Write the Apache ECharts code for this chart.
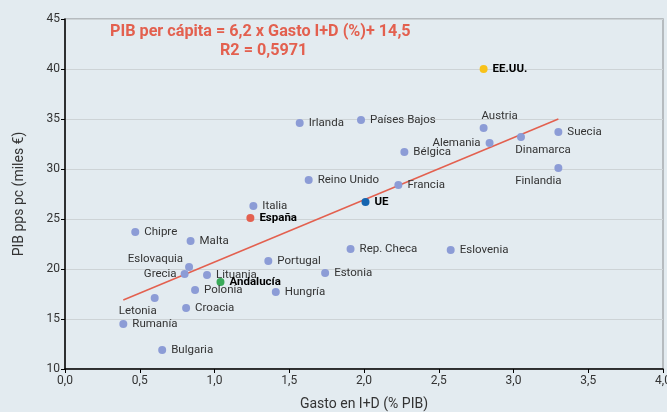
<html>
    <head>
        <meta charset="utf-8">
        <script src="https://cdn.jsdelivr.net/npm/echarts@6/dist/echarts.min.js"></script>
    </head>
    <body style="margin:0">
        <style>
            #main {
                position: absolute;
                left: 0;
                top: 0;
                width: 667px;
                height: 412px;
                background: #e3ebf0;
            }
        </style>
        <div id="main"></div>

        <script>
            // countries: gasto I+D (% PIB) vs PIB pps pc (miles de euros)
            var names = ['EE.UU.', 'Irlanda', 'Pa\u00edses Bajos', 'Austria', 'Suecia', 'Dinamarca',
                'Alemania', 'B\u00e9lgica', 'Finlandia', 'Reino Unido', 'Francia', 'UE', 'Italia',
                'Espa\u00f1a', 'Chipre', 'Malta', 'Rep. Checa', 'Eslovenia', 'Portugal', 'Eslovaquia',
                'Grecia', 'Lituania', 'Estonia', 'Andaluc\u00eda', 'Polonia', 'Hungr\u00eda', 'Letonia',
                'Croacia', 'Ruman\u00eda', 'Bulgaria'];
            var gasto = [2.80, 1.57, 1.98, 2.80, 3.30, 3.05, 2.84, 2.27, 3.30, 1.63, 2.23, 2.01, 1.26,
                1.24, 0.47, 0.84, 1.91, 2.58, 1.36, 0.83, 0.80, 0.95, 1.74, 1.04, 0.87, 1.41, 0.60,
                0.81, 0.39, 0.65];
            var pib = [40.0, 34.6, 34.9, 34.1, 33.7, 33.2, 32.6, 31.7, 30.1, 28.9, 28.4, 26.7, 26.3,
                25.1, 23.7, 22.8, 22.0, 21.9, 20.8, 20.2, 19.5, 19.4, 19.6, 18.7, 17.9, 17.7, 17.1,
                16.1, 14.5, 11.9];
            // trend line end points
            var trendX = [0.39, 3.30];
            var trendY = [16.9, 35.0];
            var xTicks = ['0,0', '0,5', '1,0', '1,5', '2,0', '2,5', '3,0', '3,5', '4,0'];

            var highlight = {
                'EE.UU.': '#f8c21a',
                'Espa\u00f1a': '#e3604f',
                'UE': '#1565b0',
                'Andaluc\u00eda': '#3aaa5a'
            };
            var labelLayout = {
                'Austria': { position: 'top', distance: 2, offset: [16, 0] },
                'Alemania': { position: 'left' },
                'Dinamarca': { position: 'bottom', distance: 3, offset: [22, 0] },
                'Finlandia': { position: 'bottom', distance: 3, offset: [-20, 0] },
                'Letonia': { position: 'bottom', distance: 3, offset: [-17, 0] },
                'Eslovaquia': { position: 'left', offset: [3, -8] },
                'Grecia': { position: 'left', distance: 4 }
            };

            var font = '"Liberation Sans Narrow", "Roboto", sans-serif';

            var points = names.map(function (n, i) {
                var item = {
                    name: n,
                    value: [gasto[i], pib[i]],
                    label: Object.assign({ position: 'right', distance: 5 }, labelLayout[n] || {})
                };
                if (highlight[n]) {
                    item.itemStyle = { color: highlight[n] };
                    item.label.fontWeight = 'bold';
                    item.label.color = '#000';
                }
                return item;
            });

            var chart = echarts.init(document.getElementById('main'));
            chart.setOption({
                animation: false,
                textStyle: { fontFamily: font },
                grid: {
                    left: 65, right: 4, top: 19, bottom: 43,
                    outerBoundsMode: 'none',
                    containLabel: false,
                    show: true,
                    borderColor: '#a8acae',
                    borderWidth: 1.5
                },
                graphic: [{
                    type: 'text',
                    left: 110,
                    top: 24,
                    style: {
                        text: 'PIB per c\u00e1pita = 6,2 x Gasto I+D (%)+ 14,5',
                        font: 'bold 16.2px ' + font,
                        fill: '#e3604f'
                    }
                }, {
                    type: 'text',
                    left: 220,
                    top: 43,
                    style: {
                        text: 'R2 = 0,5971',
                        font: 'bold 16.2px ' + font,
                        fill: '#e3604f'
                    }
                }],
                xAxis: {
                    type: 'value',
                    min: 0, max: 4, interval: 0.5,
                    name: 'Gasto en I+D (% PIB)',
                    nameLocation: 'middle',
                    nameGap: 28,
                    nameTextStyle: { fontSize: 14, color: '#333' },
                    axisLine: { lineStyle: { color: '#000', width: 1.5 } },
                    axisTick: { show: true, length: 4, lineStyle: { color: '#000' } },
                    axisLabel: {
                        fontSize: 12, color: '#333', margin: 6,
                        formatter: function (v) { return xTicks[Math.round(v / 0.5)]; }
                    },
                    splitLine: { show: false }
                },
                yAxis: {
                    type: 'value',
                    min: 10, max: 45, interval: 5,
                    name: 'PIB pps pc (miles \u20ac)',
                    nameLocation: 'middle',
                    nameGap: 39,
                    nameTextStyle: { fontSize: 14, color: '#333' },
                    axisLine: { show: true, lineStyle: { color: '#000', width: 1.5 } },
                    axisTick: { show: true, length: 4, lineStyle: { color: '#000' } },
                    axisLabel: { fontSize: 12, color: '#333', margin: 5 },
                    splitLine: { lineStyle: { color: '#cdd3d6', width: 1 } }
                },
                series: [{
                    type: 'line',
                    data: trendX.map(function (x, i) { return [x, trendY[i]]; }),
                    symbol: 'none',
                    lineStyle: { color: '#e3604f', width: 1.5 },
                    silent: true,
                    z: 1
                }, {
                    type: 'scatter',
                    data: points,
                    symbolSize: 8,
                    itemStyle: { color: '#8c9cd6', opacity: 1 },
                    label: {
                        show: true,
                        formatter: '{b}',
                        fontSize: 11.5,
                        color: '#333'
                    },
                    z: 2
                }]
            });
        </script>
    </body>
</html>
